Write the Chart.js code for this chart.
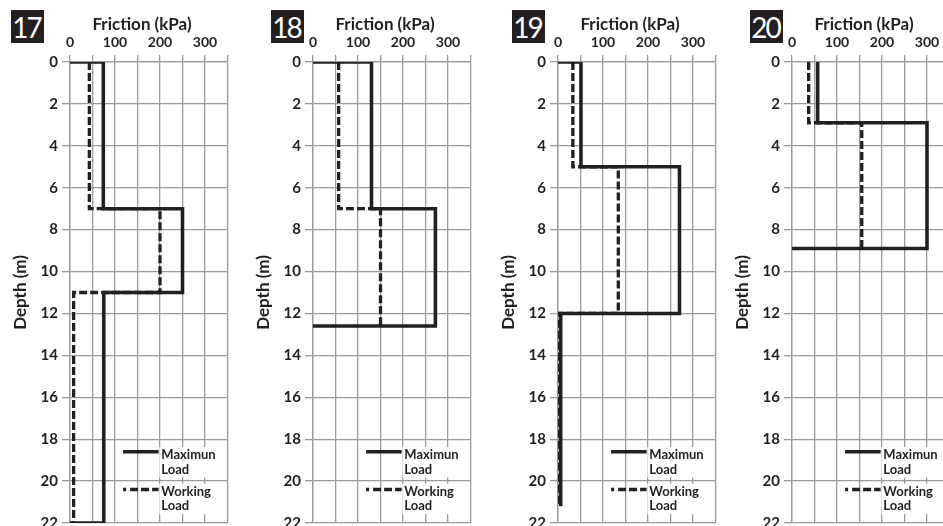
<!DOCTYPE html>
<html>
<head>
<meta charset="utf-8">
<title>Pile shaft friction</title>
<script src="https://cdn.jsdelivr.net/npm/chart.js"></script>
<style>
  body {
    margin: 0;
    width: 943px;
    height: 526px;
    overflow: hidden;
    position: relative;
    background: #fff;
  }
  .panel {
    position: absolute;
    top: 0;
    width: 234px;
    height: 526px;
  }
  .badge {
    position: absolute;
    top: 10px;
    width: 33px;
    height: 33px;
    background: #231f20;
    color: #fff;
    font: 28px Lato, sans-serif;
    letter-spacing: -2px;
    line-height: 35px;
    text-align: center;
    text-indent: -2px;
  }
</style>
</head>
<body>
<div class="badge" style="left:11px">17</div>
<div class="badge" style="left:271px">18</div>
<div class="badge" style="left:512px">19</div>
<div class="badge" style="left:750px">20</div>

<div class="panel" style="left:0px"><canvas id="pile17" width="234" height="526"></canvas></div>
<div class="panel" style="left:243px"><canvas id="pile18" width="234" height="526"></canvas></div>
<div class="panel" style="left:488px"><canvas id="pile19" width="234" height="526"></canvas></div>
<div class="panel" style="left:722px"><canvas id="pile20" width="234" height="526"></canvas></div>

<script>
/************************************************************
 *                     PROFILE DATA
 * friction in kPa, depth in m, listed vertex by vertex
 ************************************************************/

const frictionTicks = [0, 100, 200, 300];
const depthTicks = [0, 2, 4, 6, 8, 10, 12, 14, 16, 18, 20, 22];

// pile 17
const max17Friction = [0, 74, 74, 250, 250, 75, 75, 0];
const max17Depth = [0, 0, 7, 7, 11, 11, 22, 22];
const work17Friction = [43, 43, 200, 200, 8, 8];
const work17Depth = [0, 7, 7, 11, 11, 22];

// pile 18
const max18Friction = [0, 130, 130, 272, 272, 0];
const max18Depth = [0, 0, 7, 7, 12.6, 12.6];
const work18Friction = [57, 57, 150, 150];
const work18Depth = [0, 7, 7, 12.6];

// pile 19
const max19Friction = [0, 51, 51, 270, 270, 6, 6];
const max19Depth = [0, 0, 5, 5, 12, 12, 21.2];
const work19Friction = [33, 33, 134, 134, 1, 1];
const work19Depth = [0, 5, 5, 12, 12, 21.2];

// pile 20
const max20Friction = [57, 57, 300, 300, 0];
const max20Depth = [0, 2.9, 2.9, 8.9, 8.9];
const work20Friction = [37, 37, 155, 155];
const work20Depth = [0, 2.9, 2.9, 8.9];

const piles = [
  { canvas: "pile17", max: [max17Friction, max17Depth], work: [work17Friction, work17Depth] },
  { canvas: "pile18", max: [max18Friction, max18Depth], work: [work18Friction, work18Depth] },
  { canvas: "pile19", max: [max19Friction, max19Depth], work: [work19Friction, work19Depth] },
  { canvas: "pile20", max: [max20Friction, max20Depth], work: [work20Friction, work20Depth] },
];

/************************************************************
 *                        STYLE
 ************************************************************/

const INK = "#231f20";
const GRID = "#9a9a9a";
const FONT = "Lato, 'Open Sans', sans-serif";

function toPoints(friction, depth) {
  return friction.map((f, i) => ({ x: f, y: depth[i] }));
}

/************************************************************
 *                       PLUGINS
 ************************************************************/

// "Friction (kPa)" header above the top tick labels
const frictionHeader = {
  id: "frictionHeader",
  afterDraw(chart) {
    const { ctx, scales } = chart;
    ctx.save();
    ctx.fillStyle = INK;
    ctx.font = "bold 17px " + FONT;
    ctx.textAlign = "center";
    ctx.textBaseline = "middle";
    ctx.fillText("Friction (kPa)", scales.x.getPixelForValue(160), chart.chartArea.top - 37);
    ctx.restore();
  },
};

// small key in the lower right of every panel
const loadKey = {
  id: "loadKey",
  afterDatasetsDraw(chart) {
    const { ctx, scales } = chart;
    const px = (v) => scales.x.getPixelForValue(v);
    const py = (v) => scales.y.getPixelForValue(v);

    ctx.save();
    ctx.strokeStyle = INK;
    ctx.lineWidth = 3.5;
    ctx.lineCap = "butt";

    ctx.beginPath();
    ctx.moveTo(px(118), py(18.6));
    ctx.lineTo(px(197), py(18.6));
    ctx.stroke();

    ctx.setLineDash([3, 4, 8, 3, 8, 3, 8, 3]);
    ctx.beginPath();
    ctx.moveTo(px(118), py(20.4));
    ctx.lineTo(px(197), py(20.4));
    ctx.stroke();
    ctx.setLineDash([]);

    ctx.font = "bold 13px " + FONT;
    ctx.textAlign = "left";
    ctx.textBaseline = "middle";
    const left = px(203);
    const blocks = [
      ["Maximun", "Load", 18.75, 19.45],
      ["Working", "Load", 20.5, 21.2],
    ];
    blocks.forEach(([first, second, d1, d2]) => {
      const w = Math.max(ctx.measureText(first).width, ctx.measureText(second).width);
      ctx.fillStyle = "#fff";
      ctx.fillRect(left - 2, py(d1) - 8, w + 4, py(d2) - py(d1) + 16);
      ctx.fillStyle = INK;
      ctx.fillText(first, left, py(d1));
      ctx.fillText(second, left, py(d2));
    });
    ctx.restore();
  },
};

/************************************************************
 *                     CHART CONFIG
 ************************************************************/

function getPileConfig(pile) {
  return {
    type: "scatter",
    data: {
      datasets: [
        {
          label: "Maximun Load",
          data: toPoints(pile.max[0], pile.max[1]),
          showLine: true,
          borderColor: INK,
          borderWidth: 3.6,
          borderJoinStyle: "miter",
          pointRadius: 0,
        },
        {
          label: "Working Load",
          data: toPoints(pile.work[0], pile.work[1]),
          showLine: true,
          borderColor: INK,
          borderWidth: 3.3,
          borderDash: [8, 3],
          borderJoinStyle: "miter",
          pointRadius: 0,
        },
      ],
    },
    options: {
      responsive: false,
      animation: false,
      events: [],
      layout: { padding: { top: 0, left: 0, right: 6.5, bottom: 3 } },
      plugins: {
        legend: { display: false },
        tooltip: { enabled: false },
      },
      scales: {
        x: {
          type: "linear",
          position: "top",
          min: 0,
          max: 350,
          afterFit: (scale) => {
            scale.height = 62;
            scale.paddingLeft = 0;
            scale.paddingRight = 0;
          },
          afterBuildTicks: (scale) => {
            scale.ticks = [0, 50, 100, 150, 200, 250, 300, 350].map((v) => ({ value: v }));
          },
          ticks: {
            padding: 4,
            color: INK,
            autoSkip: false,
            maxRotation: 0,
            minRotation: 0,
            font: { family: FONT, size: 14, weight: "bold" },
            callback: (v) => (frictionTicks.includes(v) ? String(v) : ""),
          },
          grid: { color: GRID, lineWidth: 1.3, tickLength: 7 },
          border: { color: GRID, width: 1.3 },
        },
        y: {
          type: "linear",
          reverse: true,
          min: 0,
          max: 22,
          afterFit: (scale) => {
            scale.width = 70;
            scale.paddingTop = 0;
            scale.paddingBottom = 0;
          },
          afterBuildTicks: (scale) => {
            scale.ticks = depthTicks.map((v) => ({ value: v }));
          },
          ticks: {
            padding: 4,
            color: INK,
            autoSkip: false,
            font: { family: FONT, size: 15, weight: "bold" },
          },
          title: {
            display: true,
            text: "Depth (m)",
            color: INK,
            font: { family: FONT, size: 17, weight: "bold" },
            padding: { top: 10, bottom: 0 },
          },
          grid: { color: GRID, lineWidth: 1.3, tickLength: 8 },
          border: { color: GRID, width: 1.3 },
        },
      },
    },
    plugins: [frictionHeader, loadKey],
  };
}

/************************************************************
 *                        RENDER
 ************************************************************/

piles.forEach((pile) => {
  new Chart(document.getElementById(pile.canvas), getPileConfig(pile));
});
</script>
</body>
</html>
